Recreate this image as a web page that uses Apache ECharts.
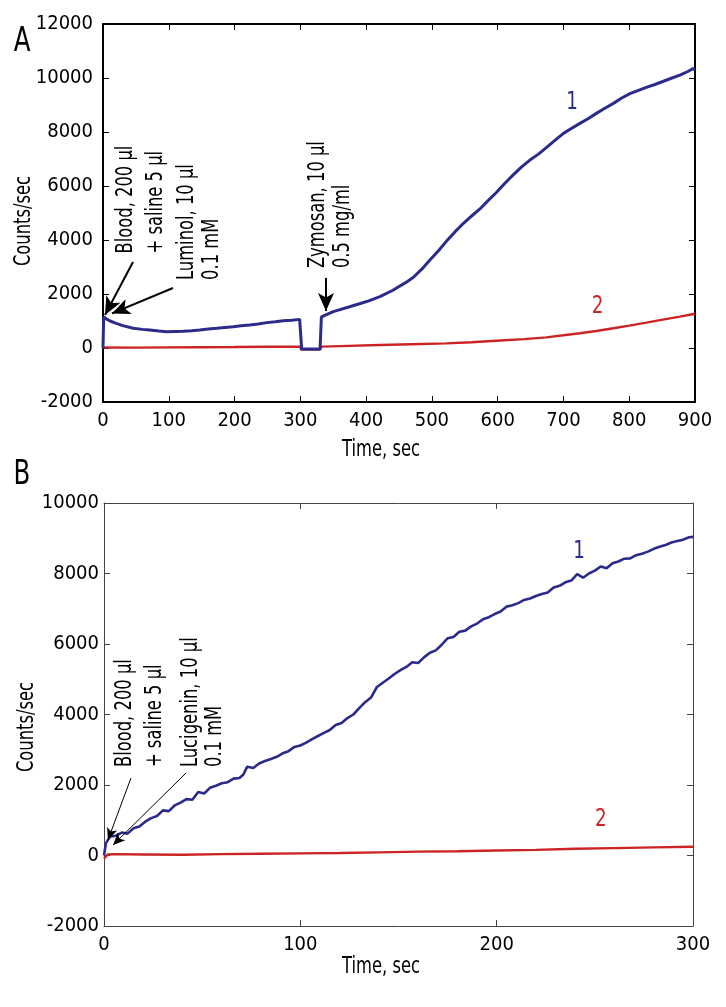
<!DOCTYPE html>
<html>
<head>
<meta charset="utf-8">
<script src="https://cdn.jsdelivr.net/npm/echarts@6/dist/echarts.min.js"></script>
<style>html,body{margin:0;padding:0;background:#fff}#c{width:726px;height:1007px}</style>
</head>
<body>
<div id="c"></div>
<script>
// ---------- Panel A data ----------
const timeA1 = [0,1,5,10,20,30,46,60,71,85,96,110,122,135,147,160,173,185,198,210,223,236,249,262,274,287,299,300,302,330,332,335,350,375,401,421,440,460,472,485,497,510,522,535,548,560,573,585,598,611,624,636,649,662,674,687,700,712,725,738,750,763,776,788,801,814,826,839,851,864,877,890,897,900];
const countsA1 = [0,1150,1080,1010,915,830,730,690,667,630,605,615,620,640,667,700,730,760,790,820,850,890,940,975,1010,1030,1060,1070,-40,-40,1150,1220,1345,1530,1720,1900,2130,2420,2620,2930,3260,3600,3950,4300,4620,4880,5150,5450,5760,6100,6420,6700,6960,7180,7420,7690,7950,8130,8320,8500,8690,8880,9060,9250,9420,9540,9650,9760,9870,9990,10110,10250,10350,10300];
const timeA2 = [0,50,100,150,200,250,300,301,330,332,360,421,470,522,560,598,640,674,700,725,750,776,800,826,851,877,900];
const countsA2 = [20,15,25,30,35,45,50,-60,-60,50,70,110,140,170,215,270,330,395,470,545,630,730,830,940,1050,1160,1270];

// ---------- Panel B data ----------
const timeB1 = [0,1,3,6,9,12,15,18,21,24,27,30,33,36,39,42,45,48,51,54,57,60,63,66,69,71,73,76,79,82,85,88,91,94,97,100,103,106,109,112,115,118,121,124,127,130,133,136,139,142,145,148,151,154,157,160,163,166,169,172,175,178,181,184,187,190,193,196,199,202,205,208,211,214,217,220,223,226,229,232,235,238,241,244,247,250,253,256,259,262,265,268,271,274,277,280,283,286,289,292,295,298,300];
const countsB1 = [0,350,530,560,650,620,770,820,960,1060,1120,1280,1260,1420,1500,1600,1580,1800,1760,1920,1980,2050,2080,2180,2200,2300,2520,2480,2610,2680,2740,2800,2900,2960,3080,3120,3200,3300,3390,3480,3560,3700,3760,3900,4000,4180,4350,4480,4780,4900,5020,5150,5260,5350,5480,5460,5620,5750,5820,5980,6160,6200,6350,6380,6500,6580,6700,6760,6850,6920,7060,7100,7160,7250,7290,7360,7420,7460,7600,7650,7750,7800,7980,7880,8000,8080,8200,8150,8290,8340,8420,8430,8520,8560,8620,8700,8760,8810,8880,8920,8960,9030,9040];
const timeB2 = [0,2,5,20,40,60,80,100,120,140,160,180,200,220,240,260,280,300];
const countsB2 = [-80,30,40,30,20,40,50,60,70,90,110,120,140,160,190,210,230,250];

// ---------- Axis ranges / labels ----------
const xRangeA = [0, 900, 100];
const yRangeA = [-2000, 12000, 2000];
const xRangeB = [0, 300, 100];
const yRangeB = [-2000, 10000, 2000];
const xTitle = 'Time, sec';
const yTitle = 'Counts/sec';
const panelLabels = ['A', 'B'];
const curveLabels = ['1', '2'];

// ---------- Annotations (data coordinates) ----------
const notesA = [
  { text: 'Blood, 200 µl\n+ saline 5 µl', at: [58, 3500], lh: 30 },
  { text: 'Luminol, 10 µl\n0.1 mM', at: [146, 2520], lh: 25 },
  { text: 'Zymosan, 10 µl\n0.5 mg/ml', at: [346, 2960], lh: 25 }
];
const arrowsA = [
  [[45.6, 3185], [3, 1222]],
  [[106.4, 2222], [13.7, 1280]],
  [[339, 2593], [339, 1370]]
];
const curveLabelPosA = [[713, 9070], [752, 1520]];
const notesB = [
  { text: 'Blood, 200 µl\n+ saline 5 µl', at: [18.3, 2510], lh: 30 },
  { text: 'Lucigenin, 10 µl\n0.1 mM', at: [50.4, 2510], lh: 24 }
];
const arrowsB = [
  [[13.75, 2199], [2.0, 440]],
  [[41.8, 2340], [4.6, 298]]
];
const curveLabelPosB = [[242, 8610], [253, 1010]];

const BLUE = '#2b2b8c';
const RED = '#cc2424';
const FONT = "'DejaVu Sans Condensed','DejaVu Sans',sans-serif";
const SQUEEZE = 0.79;
const TXT = 23;

const zip = (a, b) => a.map((v, i) => [v, b[i]]);

function axisPair(range, gridIndex, dir, color, width, margin) {
  const base = {
    type: 'value', gridIndex, min: range[0], max: range[1], interval: range[2],
    splitLine: { show: false },
    axisLine: { show: true, onZero: false, lineStyle: { color, width } },
    axisTick: { show: true, inside: true, length: 6, lineStyle: { color, width: 1 } },
  };
  const primary = Object.assign({}, base, {
    position: dir === 'x' ? 'bottom' : 'left',
    axisLabel: { show: true, color: '#000', fontFamily: FONT, fontSize: 20, margin, formatter: v => String(v) }
  });
  const secondary = Object.assign({}, base, {
    position: dir === 'x' ? 'top' : 'right',
    axisLabel: { show: false }
  });
  return [primary, secondary];
}

const xA = axisPair(xRangeA, 0, 'x', '#000', 2, 9);
const yA = axisPair(yRangeA, 0, 'y', '#000', 2, 10);
const xB = axisPair(xRangeB, 1, 'x', '#444', 1, 9);
const yB = axisPair(yRangeB, 1, 'y', '#444', 1, 5);

function arrowMark(arrows, width, size) {
  return {
    silent: true,
    animation: false,
    symbol: ['none', 'arrow'],
    symbolSize: size,
    label: { show: false },
    lineStyle: { color: '#000', width, type: 'solid' },
    emphasis: { disabled: true },
    data: arrows.map(a => [{ coord: a[0] }, { coord: a[1] }])
  };
}

const chart = echarts.init(document.getElementById('c'), null, { renderer: 'canvas', width: 726, height: 1007 });

const option = {
  animation: false,
  backgroundColor: '#fff',
  grid: [
    { left: 103, top: 24, width: 592, height: 378, containLabel: false },
    { left: 104, top: 503, width: 589, height: 423, containLabel: false }
  ],
  xAxis: [xA[0], xA[1], xB[0], xB[1]],
  yAxis: [yA[0], yA[1], yB[0], yB[1]],
  series: [
    { type: 'line', xAxisIndex: 0, yAxisIndex: 0, data: zip(timeA1, countsA1), showSymbol: false, symbol: 'none',
      lineStyle: { color: BLUE, width: 3 }, itemStyle: { color: BLUE }, z: 3,
      markLine: arrowMark(arrowsA, 2, [12, 18]) },
    { type: 'line', xAxisIndex: 0, yAxisIndex: 0, data: zip(timeA2, countsA2), showSymbol: false, symbol: 'none',
      lineStyle: { color: RED, width: 2.4 }, itemStyle: { color: RED }, z: 2 },
    { type: 'line', xAxisIndex: 2, yAxisIndex: 2, data: zip(timeB1, countsB1), showSymbol: false, symbol: 'none',
      lineStyle: { color: BLUE, width: 2.6 }, itemStyle: { color: BLUE }, z: 3,
      markLine: arrowMark(arrowsB, 1, [8, 12]) },
    { type: 'line', xAxisIndex: 2, yAxisIndex: 2, data: zip(timeB2, countsB2), showSymbol: false, symbol: 'none',
      lineStyle: { color: RED, width: 2.4 }, itemStyle: { color: RED }, z: 2 }
  ]
};
chart.setOption(option);

// ---------- Text graphics ----------
const g = [];
function txt(x, y, text, size, color, sx) {
  g.push({
    type: 'text', x, y, silent: true, z: 10, scaleX: sx || SQUEEZE,
    style: { text, fill: color, font: size + 'px ' + FONT, align: 'center', verticalAlign: 'middle' }
  });
}
function rotTxt(x, y, text, size, align, lh) {
  g.push({
    type: 'text', x, y, rotation: Math.PI / 2, scaleX: SQUEEZE, silent: true, z: 10,
    style: { text, fill: '#000', font: size + 'px ' + FONT, align, verticalAlign: 'middle', lineHeight: lh || size }
  });
}
const toA = p => chart.convertToPixel({ seriesIndex: 0 }, p);
const toB = p => chart.convertToPixel({ seriesIndex: 2 }, p);

// panel letters
txt(22, 42, panelLabels[0], 34, '#000', 0.8);
txt(22, 475, panelLabels[1], 34, '#000', 0.8);
// axis titles
txt(381, 450, xTitle, TXT, '#000');
txt(381, 967, xTitle, TXT, '#000');
rotTxt(24, 221, yTitle, TXT, 'center');
rotTxt(27, 727, yTitle, TXT, 'center');

notesA.forEach(n => { const p = toA(n.at); rotTxt(p[0], p[1], n.text, TXT, 'left', n.lh); });
notesB.forEach(n => { const p = toB(n.at); rotTxt(p[0], p[1], n.text, TXT, 'left', n.lh); });

const colors = [BLUE, RED];
curveLabelPosA.forEach((p, i) => { const q = toA(p); txt(q[0], q[1], curveLabels[i], 24, colors[i], 0.85); });
curveLabelPosB.forEach((p, i) => { const q = toB(p); txt(q[0], q[1], curveLabels[i], 24, colors[i], 0.85); });

chart.setOption({ graphic: g });
</script>
</body>
</html>
